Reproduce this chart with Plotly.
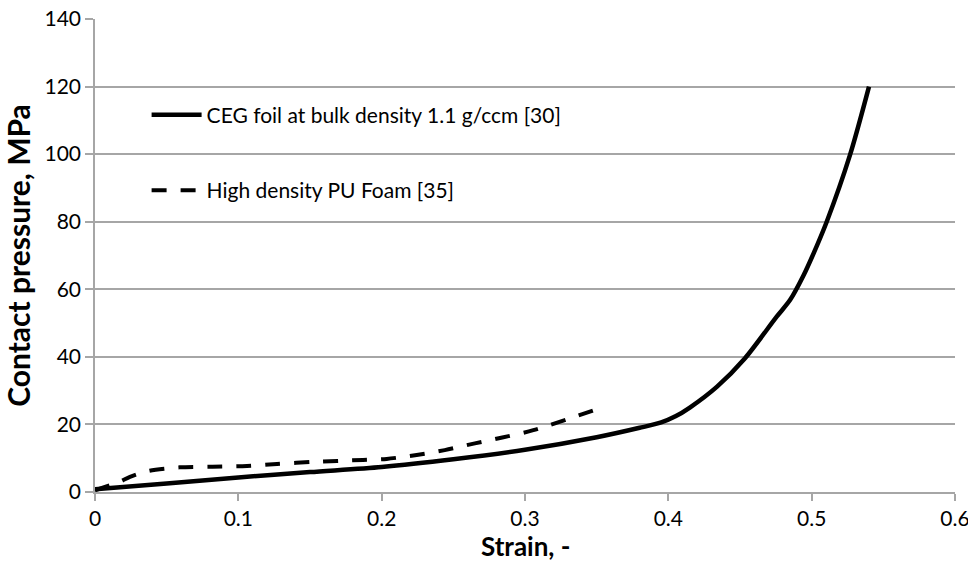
import plotly.graph_objects as go

# CEG foil at bulk density 1.1 g/ccm [30]
ceg_strain = [0.0, 0.05, 0.1, 0.15, 0.2, 0.25, 0.3, 0.35, 0.38, 0.395, 0.405, 0.415, 0.434,
              0.4535, 0.4756, 0.4849, 0.4942, 0.5012, 0.5105, 0.5267, 0.54]
ceg_pressure = [0.8, 2.5, 4.3, 5.9, 7.4, 9.7, 12.5, 16.2, 19.0, 20.6, 22.4, 25.0, 31.2,
                39.6, 51.9, 56.8, 64.0, 70.5, 80.0, 99.7, 120.0]

# High density PU Foam [35]
pu_strain = [0.0, 0.0174, 0.0244, 0.038, 0.059, 0.082, 0.106, 0.127, 0.152, 0.187,
             0.2035, 0.2244, 0.244, 0.265, 0.285, 0.3058, 0.35]
pu_pressure = [0.5, 3.05, 4.5, 6.3, 7.3, 7.5, 7.7, 8.3, 8.9, 9.5,
               9.8, 10.95, 12.4, 14.4, 16.2, 18.3, 24.5]

x_ticks = [0, 0.1, 0.2, 0.3, 0.4, 0.5, 0.6]
x_tick_labels = ["0", "0.1", "0.2", "0.3", "0.4", "0.5", "0.6"]
y_ticks = [0, 20, 40, 60, 80, 100, 120, 140]

FONT = "Lato, 'Open Sans', sans-serif"
GRID = "#a6a6a6"

fig = go.Figure()
fig.add_trace(go.Scatter(
    x=ceg_strain, y=ceg_pressure, mode="lines",
    name="CEG foil at bulk density 1.1 g/ccm [30]",
    line=dict(color="black", width=4.5, shape="spline", smoothing=0.8),
    legendgroup="a",
))
fig.add_trace(go.Scatter(
    x=pu_strain, y=pu_pressure, mode="lines",
    name="High density PU Foam [35]",
    line=dict(color="black", width=4, dash="15px,14px", shape="spline", smoothing=0.8),
    legendgroup="b",
))

# white legend panel that hides gridlines behind the legend
fig.add_shape(type="rect", xref="paper", yref="paper",
              x0=0.035, x1=0.567, y0=0.545, y1=0.89,
              fillcolor="white", line=dict(width=0), layer="between")

# x-axis title placed close under the tick labels, as in the reference
fig.add_annotation(text="<b>Strain, -</b>", xref="paper", yref="paper",
                   x=0.5, y=-0.115, xanchor="center", yanchor="middle",
                   showarrow=False, font=dict(family=FONT, size=26, color="black"))

fig.update_layout(
    width=968, height=567,
    margin=dict(l=95, r=13, t=19, b=75, autoexpand=False),
    paper_bgcolor="white", plot_bgcolor="white",
    font=dict(family=FONT, size=21, color="black"),
    showlegend=True,
    legend=dict(
        x=0.06, y=0.84, xanchor="left", yanchor="top",
        bgcolor="rgba(0,0,0,0)", borderwidth=0,
        font=dict(family=FONT, size=21, color="black"),
        traceorder="grouped", tracegroupgap=45,
        itemwidth=50,
    ),
    xaxis=dict(
        range=[0, 0.6], tickvals=x_ticks, ticktext=x_tick_labels,
        showgrid=False, zeroline=False,
        showline=True, linecolor=GRID, linewidth=1.5,
        ticks="outside", ticklen=7, tickcolor=GRID, tickwidth=1.5,
        tickfont=dict(family=FONT, size=21, color="black"),
        ticklabeloverflow="allow",
        automargin=False,
    ),
    yaxis=dict(
        range=[0, 140], tickvals=y_ticks,
        showgrid=True, gridcolor=GRID, gridwidth=1.5,
        zeroline=False,
        showline=True, linecolor=GRID, linewidth=1.5,
        ticks="outside", ticklen=8, tickcolor=GRID, tickwidth=1.5,
        tickfont=dict(family=FONT, size=21, color="black"),
        ticklabeloverflow="allow",
        title=dict(text="<b>Contact pressure, MPa</b>", font=dict(family=FONT, size=30), standoff=6),
        automargin=False,
    ),
)

fig.write_html("out.html")
